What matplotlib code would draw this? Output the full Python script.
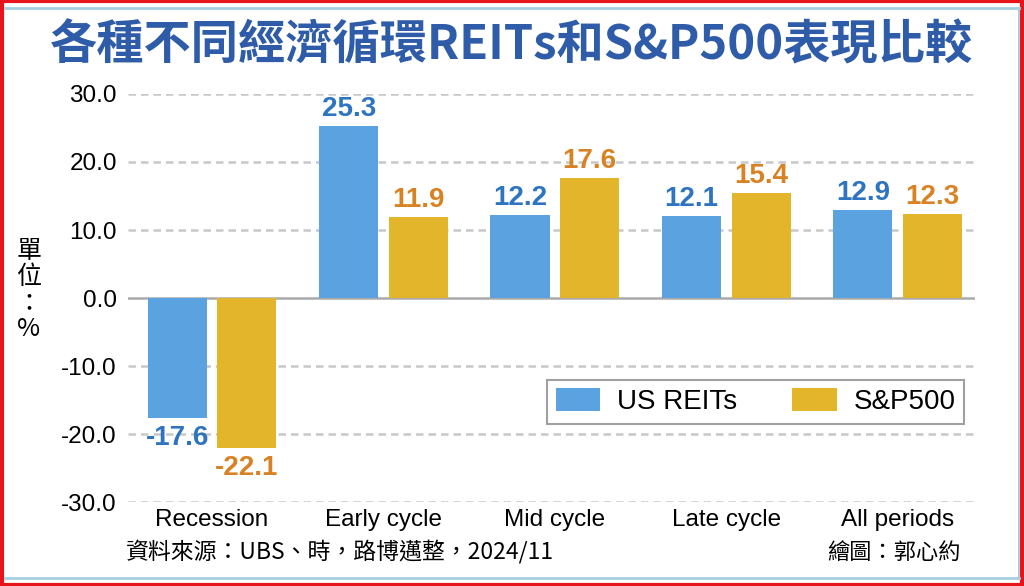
import matplotlib
matplotlib.use("Agg")
import matplotlib.pyplot as plt
from matplotlib.patches import Rectangle
from matplotlib.lines import Line2D
import numpy as np

categories = ["Recession", "Early cycle", "Mid cycle", "Late cycle", "All periods"]
reits = [-17.6, 25.3, 12.2, 12.1, 12.9]
sp500 = [-22.1, 11.9, 17.6, 15.4, 12.3]
yticks = [30.0, 20.0, 10.0, 0.0, -10.0, -20.0, -30.0]

title = "各種不同經濟循環REITs和S&P500表現比較"
unit = "單\n位\n：\n%"
source = "資料來源：UBS、時，路博邁整，2024/11"
credit = "繪圖：郭心約"

c_reit = "#5BA3E0"
c_sp = "#E3B52A"
c_reit_txt = "#2E74C0"
c_sp_txt = "#D98224"
cjk = ["Noto Sans CJK TC", "DejaVu Sans"]
sans = ["Liberation Sans", "DejaVu Sans"]

fig = plt.figure(figsize=(10.24, 5.86), dpi=100)
ax = fig.add_axes([0.125, 0.1433, 0.827, 0.6963])

x = np.arange(len(categories))
w = 0.345
off = 0.203
ax.bar(x - off, reits, w, color=c_reit, label="US REITs", zorder=3)
ax.bar(x + off, sp500, w, color=c_sp, label="S&P500", zorder=3)

for xs, vals, col in ((x - off, reits, c_reit_txt), (x + off, sp500, c_sp_txt)):
    for xi, v in zip(xs, vals):
        ax.annotate(f"{v:.1f}", (xi, v), xytext=(0, 3 if v >= 0 else -5),
                    textcoords="offset points", ha="center",
                    va="bottom" if v >= 0 else "top", color=col,
                    fontsize=20, fontweight="bold", family=sans, zorder=4)

ax.set_ylim(-30, 30)
ax.set_xlim(-0.49, 4.45)
ax.set_yticks(yticks)
ax.set_yticklabels([f"{t:.1f}" for t in yticks], fontsize=17.5, family=sans)
ax.set_xticks(x)
ax.set_xticklabels(categories, fontsize=17.5, family=sans)
ax.tick_params(length=0, pad=8)
ax.tick_params(axis="x", pad=5)
for s in ax.spines.values():
    s.set_visible(False)
for t in yticks:
    if t == 0:
        ax.axhline(0, color="#AAAAAA", lw=1.8, zorder=2)
    else:
        ax.axhline(t, color="#C8C8C8", lw=1.8, ls=(0, (3, 2)), zorder=1)

leg = ax.legend(loc="lower right", bbox_to_anchor=(0.987, 0.192), ncol=2,
                prop={"family": sans, "size": 20},
                frameon=True, fancybox=False, edgecolor="#888888", handlelength=1.6,
                handleheight=0.9, columnspacing=2.0, borderpad=0.3, handletextpad=0.6,
                borderaxespad=0)
leg.get_frame().set_linewidth(1.5)

fig.text(0.5, 0.922, title, ha="center", va="center", fontsize=34, fontweight="bold",
         color="#2F5CA8", family=cjk)
fig.text(0.028, 0.505, unit, ha="center", va="center", fontsize=18, family=cjk,
         linespacing=1.0)
fig.text(0.123, 0.058, source, ha="left", va="center", fontsize=16.5, family=cjk)
fig.text(0.938, 0.058, credit, ha="right", va="center", fontsize=16, family=cjk)

# frame
fig.patches.append(Rectangle((0.0015, 0.002), 0.997, 0.996, transform=fig.transFigure,
                             fill=False, edgecolor="#E8141B", lw=3))
fig.lines.append(Line2D([0.005, 0.995], [0.987, 0.987], transform=fig.transFigure,
                        color="#A8CFE0", lw=2))
fig.lines.append(Line2D([0.005, 0.995], [0.014, 0.014], transform=fig.transFigure,
                        color="#A8CFE0", lw=2))
fig.lines.append(Line2D([0.995, 0.995], [0.014, 0.987], transform=fig.transFigure,
                        color="#A8CFE0", lw=1.5))

fig.savefig("out.png", dpi=100, facecolor="white")
